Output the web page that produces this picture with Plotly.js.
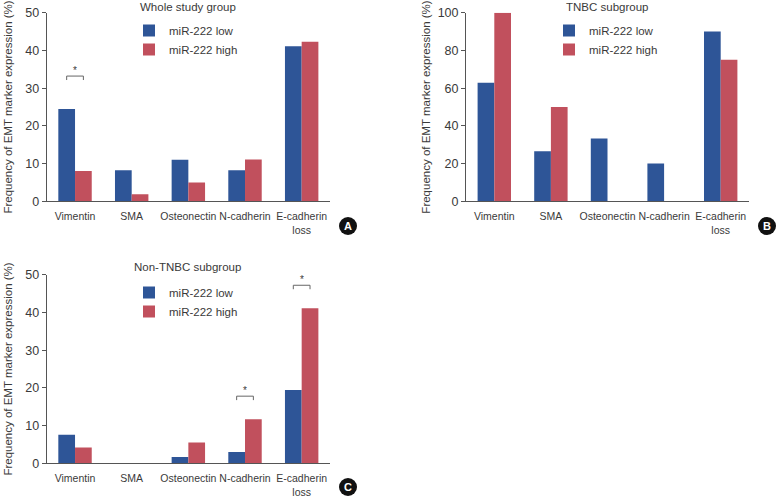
<!DOCTYPE html>
<html>
<head>
<meta charset="utf-8">
<script src="https://cdn.plot.ly/plotly-3.0.1.min.js"></script>
<style>html,body{margin:0;padding:0;background:#fff;}#chart{width:778px;height:497px;}</style>
</head>
<body>
<div id="chart"></div>
<script>
// ---- data ----
const categories = ['Vimentin', 'SMA', 'Osteonectin', 'N-cadherin', 'E-cadherin<br>loss'];
const seriesNames = ['miR-222 low', 'miR-222 high'];
const panelTitles = ['Whole study group', 'TNBC subgroup', 'Non-TNBC subgroup'];
const panelLetters = ['A', 'B', 'C'];
const yAxisTitle = 'Frequency of EMT marker expression (%)';

const lowWhole = [24.5, 8.2, 11.0, 8.2, 41.1];
const highWhole = [8.0, 1.9, 5.0, 11.1, 42.3];
const lowTNBC = [62.9, 26.5, 33.3, 20.0, 90.0];
const highTNBC = [100, 50.0, 0, 0, 75.0];
const lowNonTNBC = [7.6, 0, 1.7, 3.0, 19.4];
const highNonTNBC = [4.2, 0, 5.5, 11.7, 41.1];

const yMax = [50, 100, 50];
const yStep = [10, 20, 10];

// significance markers: panel index, category index, bracket level
const sigPanel = [0, 2, 2];
const sigCategory = [0, 3, 4];
const sigLevel = [33.2, 17.8, 47.2];

// ---- styling ----
const W = 778, H = 497;
const colors = ['#2e5597', '#c1505d'];
const textColor = '#3a3a3a';
const lineColor = '#555';
const FONT = 'Liberation Sans, Arial, Helvetica, sans-serif';
const bargap = 0.41;

const fx = p => p / W;
const fy = p => 1 - p / H;

// pixel boxes of each plot area [left, right, top, bottom]
const boxes = [
  [46.7, 330, 12.7, 201.3],
  [466, 749, 12.7, 201.3],
  [46.7, 330, 274.7, 463.3]
];
const titleStandoff = [10, 4, 10];
const titlePos = [[188, 7], [607, 7], [187, 266.5]];
const legendPos = [[129, 16], [549, 16], [129, 278]];
const circlePos = [[348, 226], [767, 226], [348, 487]];

const dataSets = [[lowWhole, highWhole], [lowTNBC, highTNBC], [lowNonTNBC, highNonTNBC]];
const legendIds = ['legend', 'legend2', 'legend3'];

const traces = [];
dataSets.forEach((pair, p) => {
  pair.forEach((vals, s) => {
    traces.push({
      type: 'bar',
      x: categories,
      y: vals,
      name: seriesNames[s],
      marker: {color: colors[s], line: {width: 0}},
      xaxis: p === 0 ? 'x' : 'x' + (p + 1),
      yaxis: p === 0 ? 'y' : 'y' + (p + 1),
      legend: legendIds[p],
      hoverinfo: 'x+y+name'
    });
  });
});

const layout = {
  width: W, height: H,
  margin: {l: 0, r: 0, t: 0, b: 0},
  paper_bgcolor: '#fff', plot_bgcolor: '#fff',
  font: {family: FONT, size: 12, color: textColor},
  barmode: 'group', bargap: bargap, bargroupgap: 0,
  showlegend: true,
  annotations: [], shapes: []
};

boxes.forEach((b, p) => {
  const xk = p === 0 ? 'xaxis' : 'xaxis' + (p + 1);
  const yk = p === 0 ? 'yaxis' : 'yaxis' + (p + 1);
  const yid = p === 0 ? 'y' : 'y' + (p + 1);
  const xid = p === 0 ? 'x' : 'x' + (p + 1);
  layout[xk] = {
    domain: [fx(b[0]), fx(b[1])], anchor: yid,
    type: 'category', range: [-0.5, 4.5],
    showline: true, linecolor: lineColor, linewidth: 1,
    ticks: '', showgrid: false, zeroline: false,
    tickfont: {size: 10.5, color: textColor}, tickangle: 0,
    ticklabelstandoff: 5,
    fixedrange: true
  };
  layout[yk] = {
    domain: [fy(b[3]), fy(b[2])], anchor: xid,
    range: [0, yMax[p]], dtick: yStep[p], tick0: 0,
    showline: true, linecolor: lineColor, linewidth: 1,
    ticks: 'outside', ticklen: 4, tickcolor: lineColor,
    showgrid: false, zeroline: false,
    tickfont: {size: 12.5, color: textColor},
    title: {text: yAxisTitle, font: {size: 11.5, color: textColor}, standoff: titleStandoff[p]},
    automargin: false, fixedrange: true
  };
  layout[legendIds[p]] = {
    x: fx(legendPos[p][0]), y: fy(legendPos[p][1]), xanchor: 'left', yanchor: 'top',
    bgcolor: 'rgba(0,0,0,0)', borderwidth: 0,
    font: {size: 11.5, color: textColor}, itemwidth: 30, tracegroupgap: 0
  };

  layout.annotations.push({
    xref: 'paper', yref: 'paper', x: fx(titlePos[p][0]), y: fy(titlePos[p][1]),
    xanchor: 'center', yanchor: 'middle', showarrow: false,
    text: panelTitles[p], font: {size: 11.5, color: textColor}
  });
  const c = circlePos[p], r = 9;
  layout.shapes.push({
    type: 'circle', xref: 'paper', yref: 'paper',
    x0: fx(c[0] - r), x1: fx(c[0] + r), y0: fy(c[1] + r), y1: fy(c[1] - r),
    fillcolor: '#111', line: {width: 0}
  });
  layout.annotations.push({
    xref: 'paper', yref: 'paper', x: fx(c[0]), y: fy(c[1]),
    xanchor: 'center', yanchor: 'middle', showarrow: false,
    text: '<b>' + panelLetters[p] + '</b>', font: {size: 11, color: '#fff'}
  });
});

// significance brackets
const halfBar = (1 - bargap) / 4;
sigPanel.forEach((p, i) => {
  const xid = p === 0 ? 'x' : 'x' + (p + 1);
  const yid = p === 0 ? 'y' : 'y' + (p + 1);
  const cx = sigCategory[i], top = sigLevel[i], leg = yMax[p] * 0.021;
  const ln = {color: '#666', width: 1};
  layout.shapes.push({type: 'line', xref: xid, yref: yid, x0: cx - halfBar, x1: cx + halfBar, y0: top, y1: top, line: ln});
  layout.shapes.push({type: 'line', xref: xid, yref: yid, x0: cx - halfBar, x1: cx - halfBar, y0: top, y1: top - leg, line: ln});
  layout.shapes.push({type: 'line', xref: xid, yref: yid, x0: cx + halfBar, x1: cx + halfBar, y0: top, y1: top - leg, line: ln});
  layout.annotations.push({
    xref: xid, yref: yid, x: cx, y: top, xanchor: 'center', yanchor: 'bottom',
    showarrow: false, text: '*', font: {size: 10, color: textColor}, yshift: -2
  });
});

Plotly.newPlot('chart', traces, layout, {displayModeBar: false, staticPlot: true});
</script>
</body>
</html>
